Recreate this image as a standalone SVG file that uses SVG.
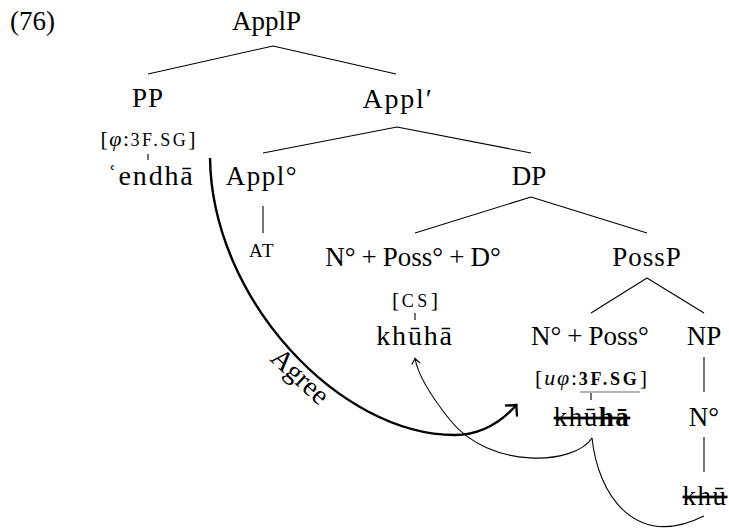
<svg xmlns="http://www.w3.org/2000/svg" width="729" height="531" viewBox="0 0 729 531">
<style>
text{font-family:"Liberation Serif","DejaVu Serif",serif;fill:#000}
.t{font-size:27px;text-anchor:middle}
.w{font-size:28px;letter-spacing:1.8px}
.s{font-size:22px;text-anchor:middle}
.sc{font-size:18px;letter-spacing:1px}
.e{stroke:#000;stroke-width:1.1;fill:none}
.strike{text-decoration:line-through}
</style>
<defs>
<marker id="thick" markerUnits="userSpaceOnUse" viewBox="-12 -12 24 24" markerWidth="24" markerHeight="24" refX="0" refY="0" orient="auto" overflow="visible">
<path d="M-7.5,-7.5 Q-2.5,-2 0,0 Q-2.5,2 -7.5,7.5" fill="none" stroke="#000" stroke-width="2.3" stroke-linecap="round"/>
</marker>
<marker id="thin" markerUnits="userSpaceOnUse" viewBox="-8 -8 16 16" markerWidth="16" markerHeight="16" refX="0" refY="0" orient="auto" overflow="visible">
<path d="M-5,-4 Q-1.5,-1 0,0 Q-1.5,1 -5,4" fill="none" stroke="#000" stroke-width="1.1" stroke-linecap="round"/>
</marker>
</defs>
<text x="10" y="30" font-size="27">(76)</text>
<g id="connectors">
<path class="e" d="M273,46 L148,74 M273,46 L396,74"/>
<path class="e" d="M397,127 L263,153 M397,127 L531,153"/>
<path class="e" d="M531,197 L415,233 M531,197 L647,233"/>
<path class="e" d="M647,278 L591,313 M647,278 L704,313"/>
<path class="e" d="M263,206 L263,233"/>
<path class="e" d="M704,357 L704,392 M704,437 L704,472"/>
<path class="e" d="M148,154 L148,160 M415,313 L415,320 M591,393 L591,400"/>
<path d="M210,158 C212,300 340,435 455,435 C482,435 502,421 516.5,405" fill="none" stroke="#000" stroke-width="2.4" marker-end="url(#thick)"/>
<path d="M592,438 C575,465 490,470 450,420 C430,395 418,375 415,358.5" fill="none" stroke="#000" stroke-width="1.1" marker-end="url(#thin)"/>
<path d="M592,438 C598,495 635,550 704,516" fill="none" stroke="#000" stroke-width="1.1"/>
<text x="294" y="383" font-size="28" text-anchor="middle" transform="rotate(43 294 383)">Agree</text>
</g>
<g id="ApplP"><text class="t" x="266.5" y="30">ApplP</text></g>
<g id="PP">
<text class="t" x="148" y="107" style="letter-spacing:1px">PP</text>
<text class="s" x="148" y="146" textLength="95">[<tspan font-style="italic">φ</tspan>:<tspan class="sc">3F.SG</tspan>]</text>
<text class="t w" x="151" y="185">ʿendhā</text>
</g>
<g id="Applbar"><text class="t w" x="398" y="108">Appl′</text></g>
<g id="Appl0">
<text class="t" x="262" y="185" style="letter-spacing:1.5px">Appl°</text>
<text x="262" y="257" style="font-size:19px;letter-spacing:1.5px;text-anchor:middle">AT</text>
</g>
<g id="DP"><text class="t" x="529" y="185">DP</text></g>
<g id="NPossD">
<text class="t" x="413" y="266">N°<tspan dx="6">+</tspan><tspan dx="6">Poss°</tspan><tspan dx="6">+</tspan><tspan dx="6">D°</tspan></text>
<text class="s" x="415" y="307" textLength="46">[<tspan class="sc">CS</tspan>]</text>
<text class="t w" x="415" y="345">khūhā</text>
</g>
<g id="PossP"><text class="t" x="647" y="266" style="letter-spacing:1px">PossP</text></g>
<g id="NPoss">
<text class="t" x="590" y="345">N°<tspan dx="6">+</tspan><tspan dx="6">Poss°</tspan></text>
<text class="s" x="591" y="385" textLength="112">[<tspan font-style="italic">uφ</tspan>:<tspan class="sc" font-weight="bold">3F.SG</tspan>]</text>
<line x1="580" y1="392" x2="640" y2="392" stroke="#666" stroke-width="1.2"/>
<text class="t strike" x="592" y="426" style="letter-spacing:1.5px">khū<tspan font-weight="bold">hā</tspan></text>
</g>
<g id="NP"><text class="t" x="704" y="345">NP</text></g>
<g id="N0">
<text class="t" x="704" y="426">N°</text>
<text class="t strike" x="705" y="505" style="letter-spacing:1.5px">khū</text>
</g>
</svg>
